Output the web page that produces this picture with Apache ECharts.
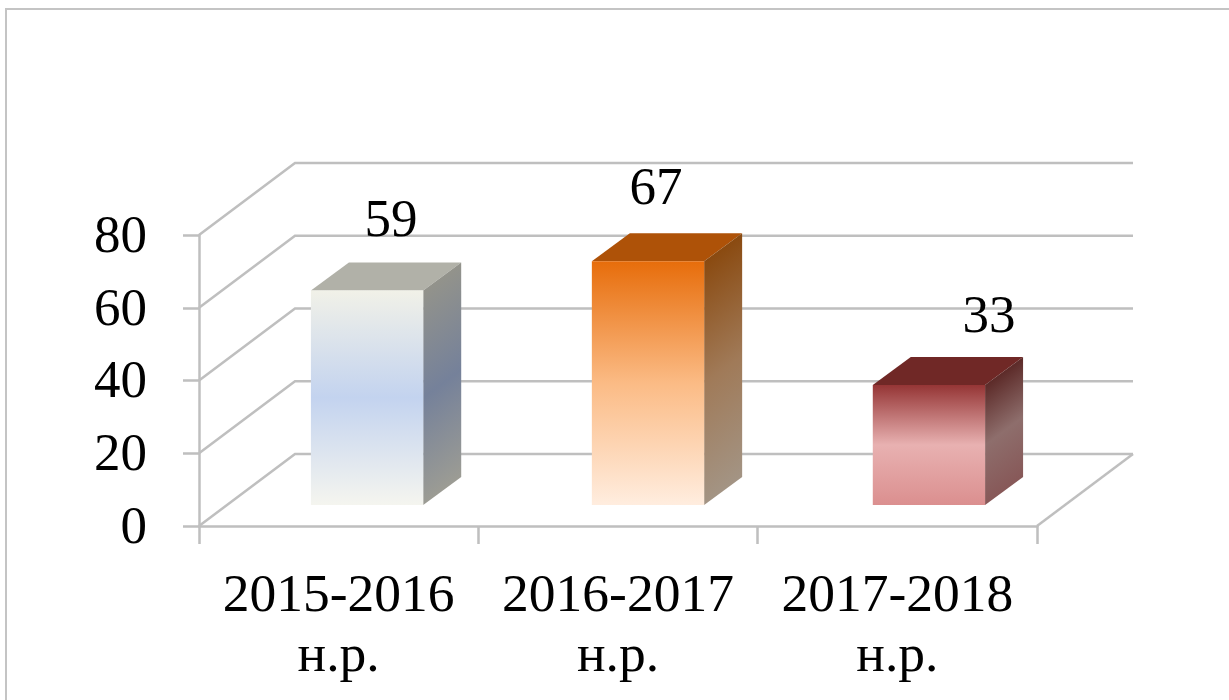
<!DOCTYPE html>
<html>
<head>
<meta charset="utf-8">
<script src="https://cdn.jsdelivr.net/npm/echarts@6/dist/echarts.min.js"></script>
<style>
html, body { margin: 0; padding: 0; background: #fff; }
#main { width: 1229px; height: 700px; }
</style>
</head>
<body>
<div id="main"></div>
<script>
var categories = ['2015-2016\nн.р.', '2016-2017\nн.р.', '2017-2018\nн.р.'];
var values = [59, 67, 33];
var yTicks = [0, 20, 40, 60, 80];

// front, side and top colours of each bar
var frontColors = [
    ['#f1f1e8', '#c3d3ef', '#f5f5ef'],
    ['#e76d0b', '#fbbb85', '#ffeddf'],
    ['#953535', '#e8b1b1', '#db8f8f']
];
var sideColors = [
    ['#93938b', '#75819a', '#9c9c94'],
    ['#8a4a10', '#a07a58', '#a39484'],
    ['#5c2a28', '#8e6e6c', '#875858']
];
var topColors = ['#b1b1a8', '#ae5208', '#702826'];
// the data labels were moved by hand in the original
var labelShiftX = [24, 8, 60];
var labelShiftY = [4, 1, 6];

var fontName = '"Liberation Serif", serif';
var gridColor = '#bfbfbf';
var gridWidth = 2.5;
var wallX = 96, wallY = 72;
var depthX = 38, depthY = 28;

function stops(c) {
    return [{offset: 0, color: c[0]}, {offset: 0.5, color: c[1]}, {offset: 1, color: c[2]}];
}

function renderWall(params, api) {
    var band = api.size([1, 0])[0];
    var p = api.coord([0, api.value(1)]);
    var left = p[0] - band / 2;
    var right = left + band * categories.length;
    var y = p[1];
    var style = {stroke: gridColor, lineWidth: gridWidth, fill: null};
    var children = [{
        type: 'polyline',
        shape: {points: [[left, y], [left + wallX, y - wallY], [right + wallX, y - wallY]]},
        style: style
    }];
    if (api.value(1) === 0) {
        children.push({
            type: 'line',
            shape: {x1: right, y1: y, x2: right + wallX, y2: y - wallY},
            style: style
        });
    }
    return {type: 'group', children: children};
}

function renderBar(params, api) {
    var i = params.dataIndex;
    var band = api.size([1, 0])[0];
    var zero = api.coord([i, 0]);
    var top = api.coord([i, api.value(1)]);
    var w = band * 0.402;
    // bars stand in the middle of the floor, not on its front edge
    var x0 = zero[0] + 28.4 + i * 1.6 - w / 2;
    var x1 = x0 + w;
    var yb = zero[1] - 21;
    var yt = top[1] - 21;
    var h = yb - yt;
    var len = Math.sqrt(depthX * depthX + depthY * depthY);
    var proj = h * depthX / len;
    return {
        type: 'group',
        children: [{
            type: 'polygon',
            shape: {points: [[x0, yt], [x1, yt], [x1 + depthX, yt - depthY], [x0 + depthX, yt - depthY]]},
            style: {fill: topColors[i]}
        }, {
            type: 'polygon',
            shape: {points: [[x1, yt], [x1 + depthX, yt - depthY], [x1 + depthX, yb - depthY], [x1, yb]]},
            style: {
                fill: {
                    type: 'linear',
                    global: true,
                    x: x1,
                    y: yt,
                    x2: x1 + proj * depthY / len,
                    y2: yt + proj * depthX / len,
                    colorStops: stops(sideColors[i])
                }
            }
        }, {
            type: 'rect',
            shape: {x: x0, y: yt, width: w, height: h},
            style: {
                fill: {type: 'linear', x: 0, y: 0, x2: 0, y2: 1, colorStops: stops(frontColors[i])}
            }
        }, {
            type: 'text',
            style: {
                x: x0 + w / 2 + labelShiftX[i],
                y: yt - 46 + labelShiftY[i],
                text: String(api.value(1)),
                fill: '#000',
                font: '53px ' + fontName,
                align: 'center',
                verticalAlign: 'bottom'
            }
        }]
    };
}

var myChart = echarts.init(document.getElementById('main'));

var option = {
    backgroundColor: '#fff',
    animation: false,
    grid: {left: 199, right: 192, top: 235, bottom: 174},
    xAxis: {
        type: 'category',
        data: categories,
        axisLine: {lineStyle: {color: gridColor, width: gridWidth}},
        axisTick: {show: true, length: 18, lineStyle: {color: gridColor, width: gridWidth}},
        axisLabel: {
            color: '#000',
            fontFamily: fontName,
            fontSize: 53.5,
            lineHeight: 60,
            margin: 41,
            interval: 0
        }
    },
    yAxis: {
        type: 'value',
        min: yTicks[0],
        max: yTicks[yTicks.length - 1],
        interval: 20,
        splitLine: {show: false},
        axisLine: {show: true, lineStyle: {color: gridColor, width: gridWidth}},
        axisTick: {show: true, length: 16, lineStyle: {color: gridColor, width: gridWidth}},
        axisLabel: {
            margin: 52,
            formatter: '{n|{value}}',
            rich: {
                n: {
                    color: '#000',
                    fontFamily: fontName,
                    fontSize: 53,
                    padding: [6, 0, 0, 0]
                }
            }
        }
    },
    graphic: [{
        type: 'polyline',
        silent: true,
        shape: {points: [[6, 700], [6, 9], [1229, 9]]},
        style: {stroke: '#c4c4c4', lineWidth: 2, fill: null}
    }],
    series: [{
        type: 'custom',
        renderItem: renderWall,
        data: yTicks.map(function (v) { return [0, v]; }),
        encode: {x: 0, y: 1},
        silent: true,
        z: 1
    }, {
        type: 'custom',
        renderItem: renderBar,
        data: values.map(function (v, i) { return [i, v]; }),
        encode: {x: 0, y: 1},
        silent: true,
        z: 3
    }]
};

myChart.setOption(option);
</script>
</body>
</html>
